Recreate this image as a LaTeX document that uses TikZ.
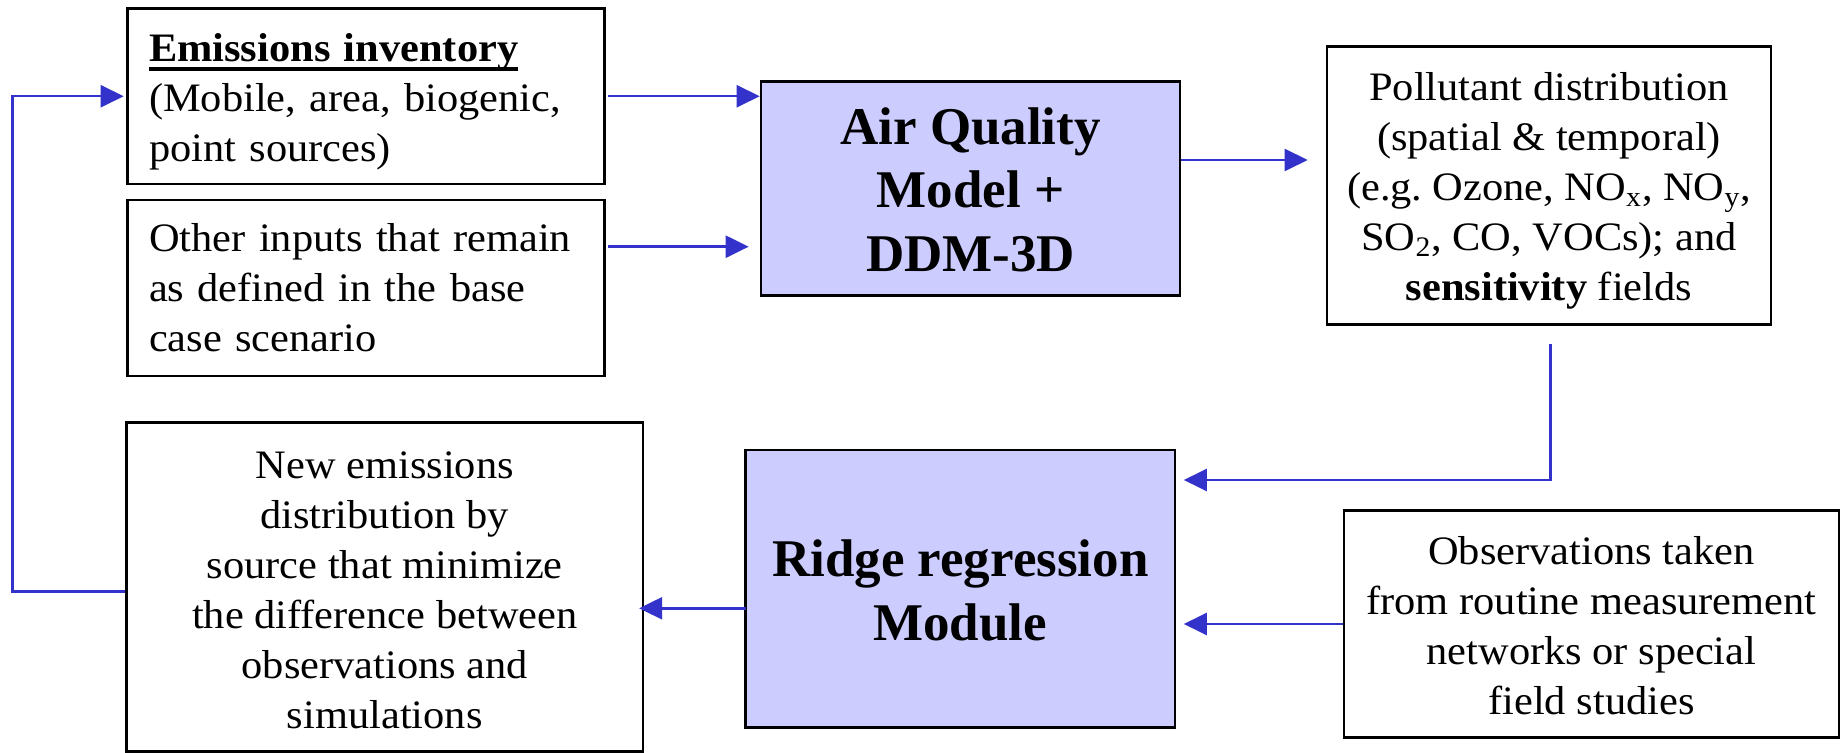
\documentclass[tikz,border=0pt]{standalone}
\usepackage{fontspec}
\setmainfont{Liberation Serif}
\newfontfamily\bodyfont{Liberation Serif}[FakeStretch=1.05]
\usetikzlibrary{arrows.meta,calc}
\definecolor{linkblue}{RGB}{51,51,204}
\definecolor{modfill}{RGB}{204,204,255}
% thick underline that runs through the descenders
\newcommand{\myul}[1]{\setbox0\hbox{#1}\rlap{\rule[-4.5pt]{\wd0}{2pt}}\box0}

\begin{document}
\begin{tikzpicture}[x=0.5pt,y=-0.5pt,
  frame/.style={draw=black, line width=1.3pt, inner sep=0pt},
  plainbox/.style={frame},
  modbox/.style={frame, fill=modfill},
  bodytext/.style={inner sep=0pt, font=\bodyfont\fontsize{20.2}{25}\selectfont\frenchspacing},
  lefttext/.style={bodytext, align=left, text width=217pt},
  ctrtext/.style={bodytext, align=center},
  modtext/.style={inner sep=0pt, align=center, font=\bfseries\fontsize{26.5}{31.7}\selectfont},
  link/.style={draw=linkblue, line width=1.2pt},
  arr/.style={link, -{Triangle[length=11.5pt,width=11pt]}},
]
\useasboundingbox (0,0) rectangle (1843,753);

% input boxes
\node[plainbox, minimum width=238.5pt, minimum height=87.75pt] (emis) at (366,96.25) {};
\node[lefttext] (emis-t) at ($(emis.center)+(0,6)$)
  {\myul{\textbf{Emissions inventory}}\\(Mobile, area, biogenic,\\point sources)};
\node[plainbox, minimum width=238.5pt, minimum height=88pt] (other) at (366,288) {};
\node[lefttext] (other-t) at (other.center)
  {Other inputs that remain\\as defined in the base\\case scenario};

% model
\node[modbox, minimum width=209.5pt, minimum height=107pt] (aq) at (970.5,188.5) {};
\node[modtext] (aq-t) at ($(aq.center)+(0,1)$) {Air Quality\\Model +\\DDM-3D};

% model output
\node[plainbox, minimum width=222pt, minimum height=138.8pt] (poll) at (1549,185.5) {};
\node[ctrtext] (poll-t) at ($(poll.center)+(0,5)$)
  {Pollutant distribution\\(spatial \& temporal)\\(e.g. Ozone, NO\textsubscript{x}, NO\textsubscript{y},\\SO\textsubscript{2}, CO, VOCs); and\\\textbf{sensitivity} fields};

% regression stage
\node[modbox, minimum width=214.75pt, minimum height=138.85pt] (ridge) at (960.25,588.85) {};
\node[modtext] (ridge-t) at ($(ridge.center)+(0,1.5)$) {Ridge regression\\Module};
\node[plainbox, minimum width=247.5pt, minimum height=113.3pt] (obs) at (1591.5,624) {};
\node[ctrtext] (obs-t) at ($(obs.center)+(0,1.5)$)
  {Observations taken\\from routine measurement\\networks or special\\field studies};
\node[plainbox, minimum width=258.25pt, minimum height=164.5pt] (new) at (384.75,587.2) {};
\node[ctrtext] (new-t) at ($(new.center)+(0,3)$)
  {New emissions\\distribution by\\source that minimize\\the difference between\\observations and\\simulations};

% connectors
\draw[arr] ([xshift=1.25pt]emis.east) -- (aq.west |- emis.east);
\coordinate (o1) at ($(other.east)+(2.5,-41.3)$);
\draw[arr, shorten >=5.5pt] (o1) -- (aq.west |- o1);
\coordinate (a1) at ($(aq.east)+(0,-28.5)$);
\draw[arr, shorten >=9pt] (a1) -- (poll.west |- a1);
\coordinate (p1) at ($(poll.south)+(1.5,18.4)$);
\coordinate (r1) at ($(ridge.east)+(0,-108.85)$);
\draw[arr, shorten >=3.75pt] (p1) |- (r1);
\draw[arr, shorten >=3.75pt] (obs.west) -- (ridge.east |- obs.west);
\coordinate (r2) at ($(ridge.west)+(2,19.45)$);
\draw[arr, shorten >=-2.6pt] (r2) -- (new.east |- r2);
\coordinate (n1) at ($(new.west)+(0,4.5)$);
\coordinate (fb) at ($(n1)+(-112.7,0)$);
\draw[arr, shorten >=1.25pt] (n1) -- (fb) |- (emis.west);
\end{tikzpicture}
\end{document}
